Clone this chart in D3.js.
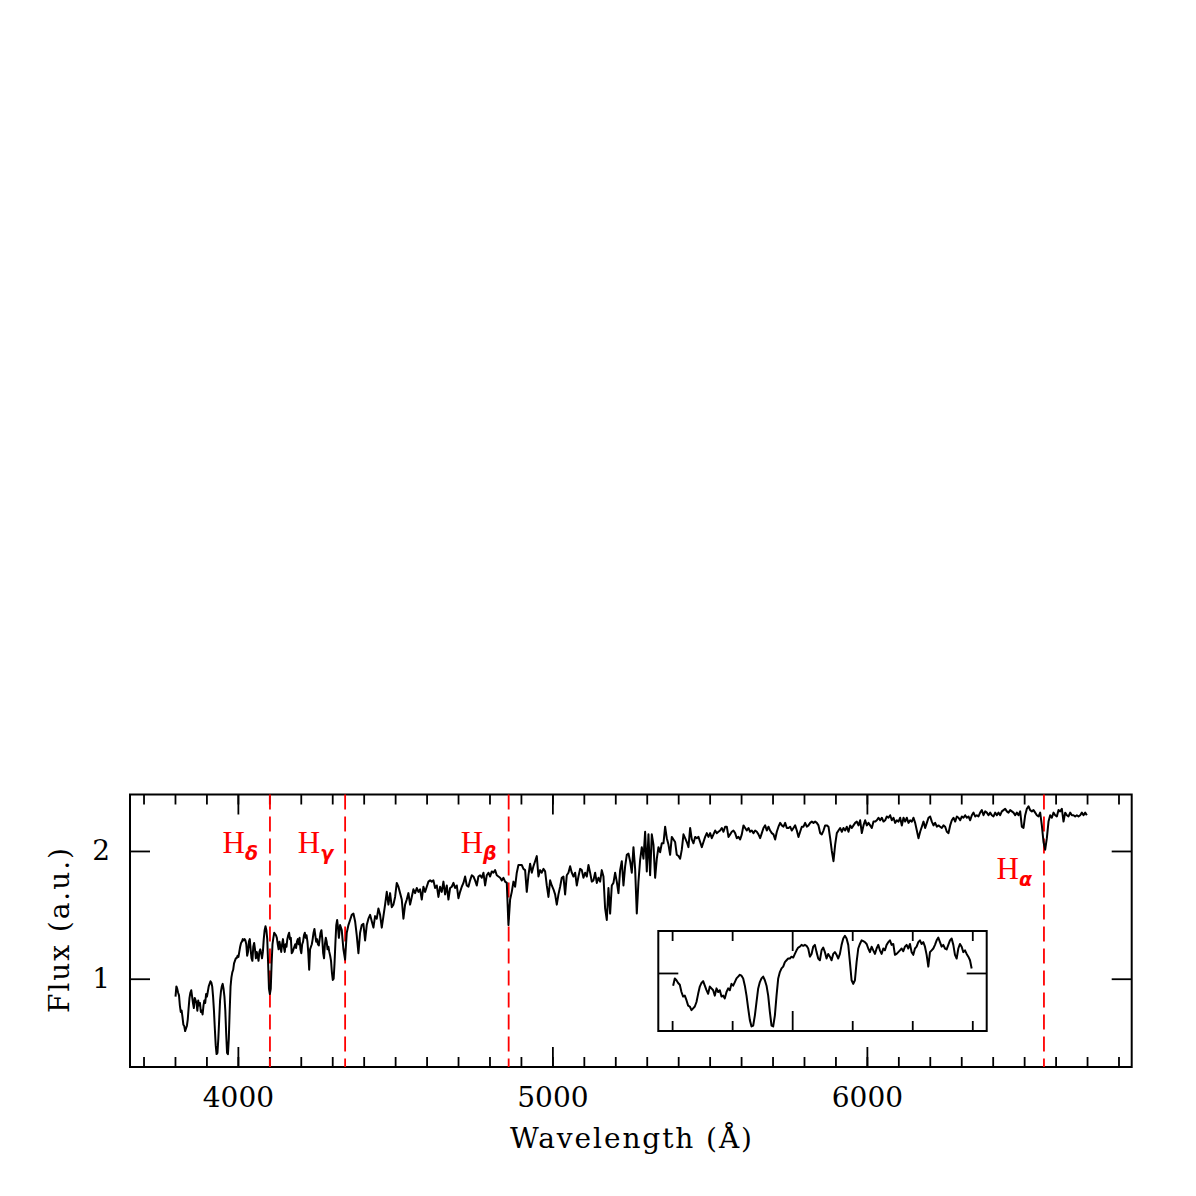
<!DOCTYPE html>
<html>
<head>
<meta charset="utf-8">
<script src="https://cdn.jsdelivr.net/npm/d3@7"></script>
<style>
    body { margin: 0; background: #fff; }
    svg { display: block; }
    .axis line { stroke: #000; stroke-width: 1.8; }
    .axis path { display: none; }
    .axis text { font-family: "DejaVu Serif", serif; font-size: 28px; fill: #000; }
</style>
</head>
<body>
<svg width="1196" height="1196"></svg>
<script>
// blue part of the spectrum (finer sampling)
const blueStart = 3801.7;
const blueStep = 2.778;
const blueFlux = [
    0.86, 0.94, 0.92, 0.89, 0.87, 0.79, 0.74, 0.75, 0.70, 0.64,
    0.63, 0.59, 0.61, 0.63, 0.68, 0.77, 0.85, 0.89, 0.91, 0.86,
    0.81, 0.77, 0.85, 0.83, 0.81, 0.75, 0.83, 0.79, 0.81, 0.74,
    0.75, 0.72, 0.79, 0.83, 0.81, 0.88, 0.86, 0.90, 0.94, 0.96,
    0.98, 0.97, 0.94, 0.86, 0.75, 0.61, 0.48, 0.41, 0.42, 0.53,
    0.68, 0.83, 0.90, 0.94, 0.96, 0.92, 0.86, 0.75, 0.57, 0.42,
    0.41, 0.53, 0.75, 0.94, 1.01, 1.05, 1.07, 1.12, 1.14, 1.16,
    1.16, 1.18, 1.17, 1.21, 1.25, 1.28, 1.29, 1.31, 1.30, 1.31,
    1.30, 1.27, 1.18, 1.21, 1.29, 1.31, 1.23, 1.16, 1.14, 1.25,
    1.28, 1.23, 1.16, 1.21, 1.18, 1.14, 1.21, 1.23, 1.20, 1.16,
    1.21, 1.31, 1.38, 1.41, 1.38, 1.31, 1.12, 0.92, 0.88, 0.92,
    1.12, 1.27, 1.32, 1.36, 1.35, 1.34, 1.32, 1.27, 1.23, 1.29,
    1.25, 1.21, 1.27, 1.31, 1.25, 1.21, 1.27, 1.25, 1.31, 1.34,
    1.36, 1.31, 1.32, 1.20, 1.21, 1.23, 1.25, 1.27, 1.24, 1.29,
    1.31, 1.27, 1.32, 1.23, 1.20, 1.27, 1.29, 1.34, 1.36, 1.32,
    1.34, 1.29, 1.20, 1.07, 1.23, 1.25, 1.27, 1.31, 1.36, 1.39,
    1.34, 1.29, 1.31, 1.27, 1.26, 1.31, 1.36, 1.38, 1.31, 1.20,
    1.16, 1.27, 1.32, 1.29, 1.23, 1.25, 1.21, 1.18, 1.14, 1.05,
    0.99, 1.00, 1.12, 1.28, 1.42, 1.46, 1.40, 1.32
];

// red part of the spectrum
const redStart = 4325;
const redStep = 5.3;
const redFlux = [
    1.42, 1.38, 1.23, 1.15, 1.36, 1.42, 1.46, 1.50, 1.51, 1.45,
    1.34, 1.20, 1.36, 1.42, 1.43, 1.30, 1.42, 1.47, 1.50, 1.45,
    1.40, 1.49, 1.47, 1.55, 1.50, 1.40, 1.49, 1.58, 1.68, 1.58,
    1.67, 1.56, 1.58, 1.64, 1.75, 1.72, 1.67, 1.62, 1.47, 1.58,
    1.62, 1.67, 1.58, 1.64, 1.70, 1.67, 1.71, 1.68, 1.70, 1.62,
    1.72, 1.68, 1.72, 1.76, 1.77, 1.76, 1.77, 1.71, 1.73, 1.64,
    1.72, 1.68, 1.76, 1.66, 1.73, 1.62, 1.71, 1.72, 1.75, 1.71,
    1.73, 1.63, 1.68, 1.72, 1.75, 1.80, 1.73, 1.72, 1.77, 1.81,
    1.80, 1.77, 1.73, 1.80, 1.81, 1.79, 1.83, 1.73, 1.81, 1.83,
    1.80, 1.84, 1.83, 1.85, 1.81, 1.80, 1.79, 1.77, 1.79, 1.76,
    1.75, 1.42, 1.62, 1.68, 1.76, 1.72, 1.83, 1.89,
    1.89, 1.89, 1.86, 1.85, 1.68, 1.81, 1.90, 1.83, 1.88, 1.92,
    1.96, 1.80, 1.85, 1.83, 1.86, 1.84, 1.73, 1.64, 1.77, 1.73,
    1.70, 1.66, 1.58, 1.66, 1.72, 1.79, 1.80, 1.66, 1.81, 1.83,
    1.88, 1.83, 1.80, 1.83, 1.73, 1.80, 1.86, 1.85, 1.79, 1.83,
    1.80, 1.89, 1.83, 1.76, 1.77, 1.83, 1.75, 1.79, 1.76, 1.85,
    1.80, 1.55, 1.46, 1.71, 1.51, 1.73, 1.75, 1.83, 1.76, 1.67,
    1.85, 1.92, 1.73, 1.88, 1.97, 1.98, 1.92, 1.83, 2.03, 1.86,
    1.51, 1.76, 1.93, 2.03, 1.94, 2.15, 1.84, 2.13, 1.81, 2.13,
    2.05, 1.79, 1.94, 2.03, 1.99, 2.06, 2.06, 2.19, 2.10, 2.05,
    1.97, 2.11, 2.09, 2.07, 1.97, 1.96, 1.94, 2.01, 2.13, 2.10,
    2.07, 2.03, 2.18, 2.09, 2.06,
    2.11, 2.10, 2.11, 2.07, 2.03, 2.07, 2.11, 2.14, 2.11, 2.14,
    2.10, 2.13, 2.16, 2.14, 2.15, 2.16, 2.18, 2.15, 2.19, 2.19,
    2.11, 2.13, 2.15, 2.16, 2.14, 2.10, 2.11, 2.09, 2.13, 2.20,
    2.18, 2.16, 2.18, 2.15, 2.16, 2.14, 2.16, 2.15, 2.13, 2.10,
    2.14, 2.18, 2.20, 2.16, 2.19, 2.16, 2.14, 2.13, 2.09, 2.15,
    2.19, 2.22, 2.20, 2.19, 2.22, 2.18, 2.18, 2.19, 2.16, 2.18,
    2.20, 2.16, 2.11, 2.15, 2.19, 2.19, 2.22, 2.19, 2.20, 2.22,
    2.23, 2.22, 2.23, 2.22, 2.20, 2.14, 2.13, 2.16, 2.20, 2.20,
    2.19, 2.10, 2.00, 1.92, 2.05, 2.14, 2.16, 2.18, 2.15, 2.18,
    2.16, 2.19, 2.15, 2.20, 2.18, 2.20, 2.22, 2.23, 2.20, 2.24,
    2.14, 2.20, 2.24, 2.20, 2.22, 2.20, 2.18, 2.23,
    2.23, 2.24, 2.26, 2.24, 2.26, 2.23, 2.24, 2.27, 2.26, 2.28,
    2.24, 2.26, 2.22, 2.24, 2.23, 2.26, 2.20, 2.26, 2.23, 2.26,
    2.22, 2.24, 2.23, 2.26, 2.22, 2.16, 2.10, 2.15, 2.19, 2.23,
    2.18, 2.22, 2.26, 2.27, 2.23, 2.20, 2.22, 2.19, 2.20, 2.19,
    2.18, 2.20, 2.19, 2.15, 2.14, 2.20, 2.24, 2.26, 2.23, 2.27,
    2.26, 2.24, 2.27, 2.26, 2.28, 2.26, 2.27, 2.24, 2.28, 2.30,
    2.27, 2.28, 2.27, 2.30, 2.32, 2.28, 2.31, 2.30, 2.28, 2.30,
    2.28, 2.27, 2.30, 2.28, 2.30, 2.28, 2.31, 2.32, 2.33, 2.31,
    2.30, 2.32, 2.31, 2.30, 2.28, 2.30, 2.28, 2.31, 2.19, 2.18,
    2.28, 2.33, 2.35, 2.32, 2.31, 2.32, 2.30, 2.28, 2.27, 2.30,
    2.20, 2.07, 2.01, 2.10, 2.23, 2.28, 2.26, 2.30, 2.28, 2.27,
    2.32, 2.31, 2.33, 2.23, 2.30, 2.28, 2.27, 2.30, 2.28, 2.28,
    2.27, 2.28, 2.27, 2.28, 2.30, 2.28, 2.30, 2.28
];

const balmerNames = ["δ", "γ", "β", "α"];
const balmerWave = [4102, 4341, 4861, 6563];

const xMajorTicks = [4000, 5000, 6000];
const xMinorTicks = d3.range(3700, 6900, 100);
const yTicks = [1, 2];
const insetMajorTicks = [4000];
const insetMinorTicks = [3800, 3900, 4100, 4200, 4300];
const insetYTicks = [1];
const insetEnd = 4300;

const spectrum = blueFlux.map((f, i) => ({wave: blueStart + i * blueStep, flux: f}))
    .concat(redFlux.map((f, i) => ({wave: redStart + i * redStep, flux: f})));

const svg = d3.select("svg");

// main panel
const box = {left: 130, right: 1131.7, top: 794.5, bottom: 1067};

let x = d3.scaleLinear().domain([3657, 6842]).range([box.left, box.right]);
let y = d3.scaleLinear().domain([0.309, 2.442]).range([box.bottom, box.top]);

function ticks(g, scale, b, major, minor, yValues, labels) {
    g.append("g").classed("axis", true)
        .attr("transform", `translate(0 ${b.bottom})`)
        .call(d3.axisBottom(scale.x).tickValues(minor).tickSize(-10).tickFormat(""));
    g.append("g").classed("axis", true)
        .attr("transform", `translate(0 ${b.bottom})`)
        .call(d3.axisBottom(scale.x).tickValues(major).tickSize(-20).tickPadding(20)
            .tickFormat(labels ? d3.format("d") : ""));
    g.append("g").classed("axis", true)
        .attr("transform", `translate(0 ${b.top})`)
        .call(d3.axisTop(scale.x).tickValues(minor).tickSize(-10).tickFormat(""));
    g.append("g").classed("axis", true)
        .attr("transform", `translate(0 ${b.top})`)
        .call(d3.axisTop(scale.x).tickValues(major).tickSize(-20).tickFormat(""));
    g.append("g").classed("axis", true)
        .attr("transform", `translate(${b.left} 0)`)
        .call(d3.axisLeft(scale.y).tickValues(yValues).tickSize(-20).tickPadding(20)
            .tickFormat(labels ? d3.format("d") : ""));
    g.append("g").classed("axis", true)
        .attr("transform", `translate(${b.right} 0)`)
        .call(d3.axisRight(scale.y).tickValues(yValues).tickSize(-20).tickFormat(""));

    g.append("rect")
        .attr("x", b.left).attr("y", b.top)
        .attr("width", b.right - b.left).attr("height", b.bottom - b.top)
        .attr("fill", "none").attr("stroke", "#000").attr("stroke-width", 2);
}

let main = svg.append("g");
ticks(main, {x, y}, box, xMajorTicks, xMinorTicks, yTicks, true);

// Balmer lines
main.selectAll("line.balmer")
    .data(balmerWave)
    .join("line")
    .classed("balmer", true)
    .attr("x1", d => x(d)).attr("x2", d => x(d))
    .attr("y1", box.top).attr("y2", box.bottom)
    .attr("stroke", "#ff0000")
    .attr("stroke-width", 1.8)
    .attr("stroke-dasharray", "15 7");

let labels = main.selectAll("text.balmer")
    .data(balmerWave)
    .join("text")
    .classed("balmer", true)
    .attr("x", d => x(d) - 12)
    .attr("y", (_, i) => i === 3 ? 878.5 : 853)
    .attr("text-anchor", "end")
    .attr("fill", "#ff0000");

labels.append("tspan")
    .attr("font-family", "Liberation Serif, serif")
    .attr("font-size", 31)
    .text("H");

labels.append("tspan")
    .attr("font-family", "DejaVu Sans, sans-serif")
    .attr("font-size", 19)
    .attr("font-style", "italic")
    .attr("font-weight", "bold")
    .attr("dy", 7)
    .text((_, i) => balmerNames[i]);

let line = d3.line()
    .x(d => x(d.wave))
    .y(d => y(d.flux));

main.append("path")
    .datum(spectrum)
    .attr("d", line)
    .attr("fill", "none")
    .attr("stroke", "#000")
    .attr("stroke-width", 2)
    .attr("stroke-linejoin", "round");

// axis titles
main.append("text")
    .attr("x", 631).attr("y", 1148)
    .attr("text-anchor", "middle")
    .attr("font-family", "DejaVu Serif, serif")
    .attr("font-size", 28)
    .attr("textLength", 242)
    .attr("lengthAdjust", "spacing")
    .text("Wavelength (Å)");

main.append("text")
    .attr("transform", "translate(69 930.5) rotate(-90)")
    .attr("text-anchor", "middle")
    .attr("font-family", "DejaVu Serif, serif")
    .attr("font-size", 28)
    .attr("textLength", 165)
    .attr("lengthAdjust", "spacing")
    .text("Flux (a.u.)");

// inset: zoom on the blue end
const insetBox = {left: 658.3, right: 986.7, top: 931, bottom: 1031};

let ix = d3.scaleLinear().domain([3777, 4324]).range([insetBox.left, insetBox.right]);
let iy = d3.scaleLinear().domain([0.36, 1.463]).range([insetBox.bottom, insetBox.top]);

let inset = svg.append("g");
ticks(inset, {x: ix, y: iy}, insetBox, insetMajorTicks, insetMinorTicks, insetYTicks, false);

inset.append("path")
    .datum(spectrum.filter(d => d.wave <= insetEnd))
    .attr("d", d3.line().x(d => ix(d.wave)).y(d => iy(d.flux)))
    .attr("fill", "none")
    .attr("stroke", "#000")
    .attr("stroke-width", 2)
    .attr("stroke-linejoin", "round");
</script>
</body>
</html>
